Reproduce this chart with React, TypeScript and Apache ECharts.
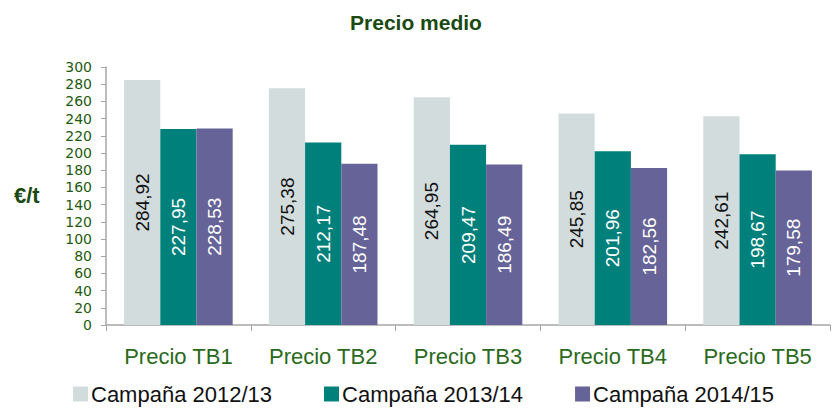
import React, { useEffect, useRef } from "react";
import * as echarts from "echarts";

const categories = ["Precio TB1", "Precio TB2", "Precio TB3", "Precio TB4", "Precio TB5"];
const seriesNames = ["Campaña 2012/13", "Campaña 2013/14", "Campaña 2014/15"];
const values2012 = [284.92, 275.38, 264.95, 245.85, 242.61];
const values2013 = [227.95, 212.17, 209.47, 201.96, 198.67];
const values2014 = [228.53, 187.48, 186.49, 182.56, 179.58];
const colors = ["#d3dcdd", "#00807b", "#666398"];
const labelColors = ["#111111", "#ffffff", "#ffffff"];

const fmt = (v: number) => v.toFixed(2).replace(".", ",");

export default function App() {
  const ref = useRef<HTMLDivElement>(null);
  useEffect(() => {
    if (!ref.current) return;
    const chart = echarts.init(ref.current, undefined, { renderer: "svg" });
    const font = "'Liberation Sans', Arial, sans-serif";
    const data = [values2012, values2013, values2014];
    chart.setOption({
      animation: false,
      textStyle: { fontFamily: font },
      title: {
        text: "Precio medio",
        left: "center",
        top: 7,
        textStyle: { fontSize: 21, fontWeight: "bold", color: "#1a4a12", fontFamily: font },
      },
      legend: {
        bottom: 4,
        left: 68,
        itemWidth: 15,
        itemHeight: 15,
        itemGap: 52,
        icon: "rect",
        textStyle: { fontSize: 22, color: "#111", fontFamily: font, padding: [0, 0, 0, -2] },
        data: seriesNames,
      },
      grid: { left: 106, right: 2, top: 67, bottom: 89 },
      graphic: [
        {
          type: "text",
          left: 14,
          top: 184,
          style: { text: "€/t", fontSize: 22, fontWeight: "bold", fill: "#1a4a12", fontFamily: font },
        },
      ],
      xAxis: {
        type: "category",
        data: categories,
        axisLine: { lineStyle: { color: "#a6a6a6", width: 1.5 } },
        axisTick: { show: true, length: 6, lineStyle: { color: "#a6a6a6" } },
        axisLabel: { fontSize: 22, color: "#2a6a1c", margin: 20, fontFamily: font },
      },
      yAxis: {
        type: "value",
        min: 0,
        max: 300,
        interval: 20,
        splitLine: { show: false },
        axisLine: { show: true, lineStyle: { color: "#a6a6a6", width: 1.5 } },
        axisTick: { show: true, length: 5, lineStyle: { color: "#a6a6a6" } },
        axisLabel: {
          fontSize: 14,
          color: "#1f5a12",
          margin: 14,
          lineHeight: 15,
          fontFamily: "'DejaVu Sans', sans-serif",
          showMinLabel: true,
          showMaxLabel: true,
          hideOverlap: false,
        },
      },
      series: seriesNames.map((name, i) => ({
        name,
        type: "bar",
        data: data[i],
        barGap: "0%",
        barCategoryGap: "25%",
        itemStyle: { color: colors[i] },
        label: {
          show: true,
          position: "inside",
          rotate: 90,
          fontSize: 19,
          color: labelColors[i],
          fontFamily: font,
          formatter: (p: any) => fmt(p.value),
        },
      })),
    });
    return () => chart.dispose();
  }, []);
  return <div ref={ref} style={{ width: 832, height: 414, position: "absolute", left: 0, top: 0 }} />;
}
